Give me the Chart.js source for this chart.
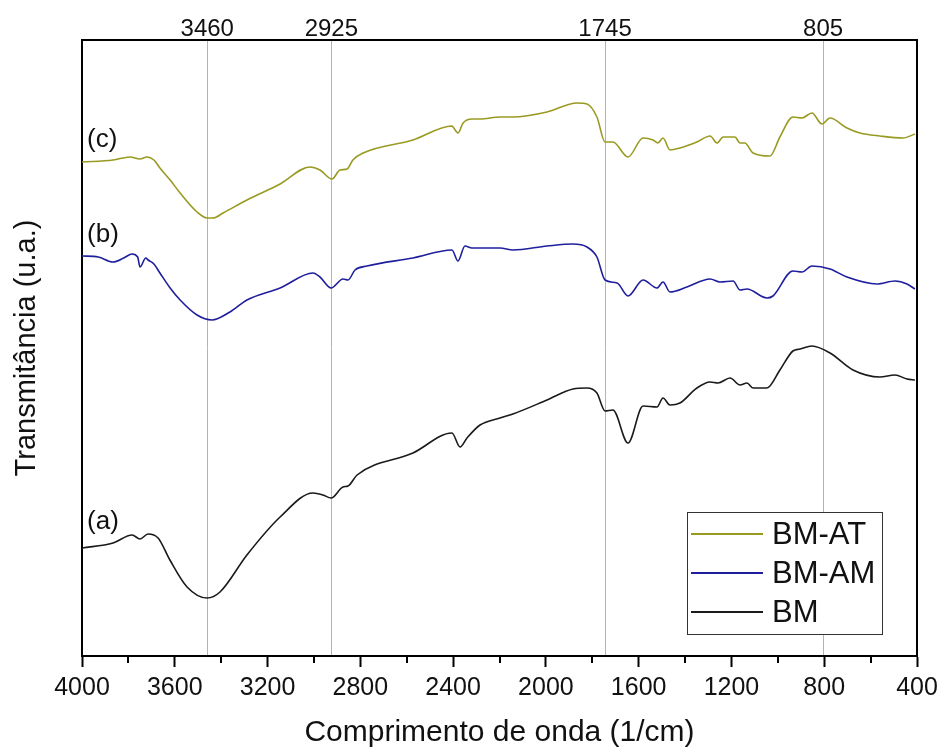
<!DOCTYPE html>
<html>
<head>
<meta charset="utf-8">
<script src="https://cdn.jsdelivr.net/npm/chart.js@4.4.1/dist/chart.umd.min.js"></script>
<style>
html,body{margin:0;padding:0;background:#fff;}
#wrap{width:941px;height:748px;}
</style>
</head>
<body>
<div id="wrap"><canvas id="c" width="941" height="748"></canvas></div>
<script>
// ---- data (transmittance in arbitrary units, offset spectra) ----
const seriesNames = ["BM-AT", "BM-AM", "BM"];
const seriesTags = ["(c)", "(b)", "(a)"];
const peakMarks = [3460, 2925, 1745, 805];
const xTickValues = [4000, 3600, 3200, 2800, 2400, 2000, 1600, 1200, 800, 400];

const atWavenumber = [4000,3866,3793,3750,3720,3690,3664,3620,3577,3504,3461,3435,3392,3289,3146,3017,2974,2922,2888,2857,2832,2788,2573,2405,2400,2379,2357,2319,2284,2198,2142,1995,1866,1823,1780,1745,1711,1646,1581,1538,1517,1495,1465,1422,1349,1292,1262,1236,1185,1163,1142,1107,1034,991,935,896,853,810,775,702,646,560,460,409];
const atValues = [494,496,499,497,499,496,488,476,463,444,438,438,443,456,472,489,486,477,486,487,496,503,516,530,529,523,533,537,537,539,539,544,553,552,539,514,514,499,518,516,513,518,506,508,514,520,513,519,519,513,513,503,500,519,539,538,543,532,538,528,523,520,518,522];

const amWavenumber = [4000,3930,3866,3820,3784,3760,3750,3725,3715,3690,3664,3620,3577,3504,3440,3362,3289,3146,3004,2974,2926,2875,2853,2823,2771,2573,2405,2379,2349,2319,2198,2142,1995,1883,1823,1780,1745,1693,1646,1581,1521,1495,1465,1392,1292,1249,1193,1163,1133,1047,1021,935,896,853,775,702,573,495,443,409];
const amValues = [400,399,394,398,402,399,389,398,396,392,383,368,356,341,336,344,356,368,383,379,368,377,376,386,390,398,406,395,410,408,408,406,410,412,409,399,376,373,360,376,368,374,364,369,377,374,375,366,367,358,360,385,384,390,387,379,372,375,372,367];

const bmWavenumber = [4000,3866,3784,3750,3715,3672,3621,3547,3461,3405,3289,3146,3004,2961,2926,2875,2853,2814,2573,2405,2370,2340,2284,2198,2142,1995,1883,1823,1780,1745,1711,1646,1581,1521,1495,1465,1422,1349,1292,1258,1206,1163,1133,1107,1047,991,935,904,853,775,676,560,495,443,409];
const bmValues = [108,113,121,117,122,118,96,69,58,64,101,139,163,161,158,169,170,181,203,223,209,218,231,238,242,256,267,268,263,245,246,213,250,249,258,251,253,268,274,273,278,271,273,268,268,286,305,307,310,303,286,279,281,277,276];

const tagPositions = [[3978, 516], [3978, 421], [3978, 134]];
const seriesColors = ["#9a9a22", "#1f1f9e", "#1a1a1a"];

function zip(xs, ys){ return xs.map((x,i)=>({x:x, y:ys[i]})); }

const FONT = "'Liberation Sans', Arial, Helvetica, sans-serif";

function fixPad(s){ s.paddingLeft = 0; s.paddingRight = 0; s.paddingTop = 0; s.paddingBottom = 0; }

const extras = {
  id: 'extras',
  afterDatasetsDraw(chart){
    const ctx = chart.ctx;
    const xs = chart.scales.x, ys = chart.scales.y;
    const ca = chart.chartArea;
    ctx.save();
    // minor ticks
    ctx.strokeStyle = '#000'; ctx.lineWidth = 2;
    for (let v = 600; v < 4000; v += 400) {
      const px = Math.round(xs.getPixelForValue(v));
      ctx.beginPath(); ctx.moveTo(px, ca.bottom); ctx.lineTo(px, ca.bottom + 7); ctx.stroke();
    }
    // series tags
    ctx.fillStyle = '#111';
    ctx.font = "26px " + FONT;
    ctx.textAlign = 'left'; ctx.textBaseline = 'middle';
    tagPositions.forEach((p, i) => {
      ctx.fillText(seriesTags[i], xs.getPixelForValue(p[0]), ys.getPixelForValue(p[1]));
    });
    // legend
    const bx = ca.right - 230, by = ca.bottom - 144, bw = 195, bh = 122;
    ctx.fillStyle = '#fff';
    ctx.fillRect(bx, by, bw, bh);
    ctx.strokeStyle = '#333'; ctx.lineWidth = 1;
    ctx.strokeRect(bx + 0.5, by + 0.5, bw, bh);
    ctx.font = "31px " + FONT;
    chart.data.datasets.forEach((ds, i) => {
      const cy = by + 22 + i * 39;
      ctx.strokeStyle = ds.borderColor; ctx.lineWidth = 2;
      ctx.beginPath(); ctx.moveTo(bx + 4, cy); ctx.lineTo(bx + 76, cy); ctx.stroke();
      ctx.fillStyle = '#111';
      ctx.fillText(ds.label, bx + 85, cy + 1);
    });
    ctx.restore();
  }
};

new Chart(document.getElementById('c'), {
  type: 'line',
  data: {
    datasets: [
      { label: seriesNames[0], data: zip(atWavenumber, atValues), borderColor: seriesColors[0] },
      { label: seriesNames[1], data: zip(amWavenumber, amValues), borderColor: seriesColors[1] },
      { label: seriesNames[2], data: zip(bmWavenumber, bmValues), borderColor: seriesColors[2] }
    ].map(d => Object.assign(d, { borderWidth: 1.6, pointRadius: 0, fill: false, cubicInterpolationMode: 'monotone' }))
  },
  options: {
    responsive: false,
    animation: false,
    layout: { padding: 0 },
    plugins: { legend: { display: false }, tooltip: { enabled: false } },
    scales: {
      x: {
        type: 'linear', position: 'bottom', min: 400, max: 4000, reverse: true,
        afterBuildTicks: (s) => { s.ticks = xTickValues.map(v => ({ value: v })); },
        afterFit: (s) => { s.height = 92; fixPad(s); },
        ticks: { autoSkip: false, maxRotation: 0, color: '#111', padding: 6, font: { family: FONT, size: 25 }, callback: (v) => String(v) },
        grid: { drawOnChartArea: false, drawTicks: true, tickLength: 11, tickColor: '#000', tickWidth: 2 },
        border: { display: true, color: '#000', width: 2 },
        title: { display: true, text: 'Comprimento de onda (1/cm)', color: '#111', font: { family: FONT, size: 30, lineHeight: 1 }, padding: { top: 0, bottom: 0 } }
      },
      xTop: {
        type: 'linear', position: 'top', min: 400, max: 4000, reverse: true,
        afterBuildTicks: (s) => { s.ticks = peakMarks.map(v => ({ value: v })); },
        afterFit: (s) => { s.height = 40; fixPad(s); },
        ticks: { autoSkip: false, maxRotation: 0, color: '#111', padding: -4, font: { family: FONT, size: 24 }, callback: (v) => String(v) },
        grid: { drawOnChartArea: true, drawTicks: false, color: '#b4b4b4', lineWidth: 1 },
        border: { display: true, color: '#000', width: 2 }
      },
      y: {
        type: 'linear', position: 'left', min: 0, max: 616,
        afterFit: (s) => { s.width = 82; fixPad(s); },
        ticks: { display: false },
        grid: { display: false, drawTicks: false },
        border: { display: true, color: '#000', width: 2 },
        title: { display: true, text: 'Transmitância (u.a.)', color: '#111', font: { family: FONT, size: 29, lineHeight: 1 }, padding: { top: 12, bottom: 0 } }
      },
      yRight: {
        type: 'linear', position: 'right', min: 0, max: 616,
        afterFit: (s) => { s.width = 24; fixPad(s); },
        ticks: { display: false },
        grid: { display: false, drawTicks: false },
        border: { display: true, color: '#000', width: 2 }
      }
    }
  },
  plugins: [extras]
});
</script>
</body>
</html>
